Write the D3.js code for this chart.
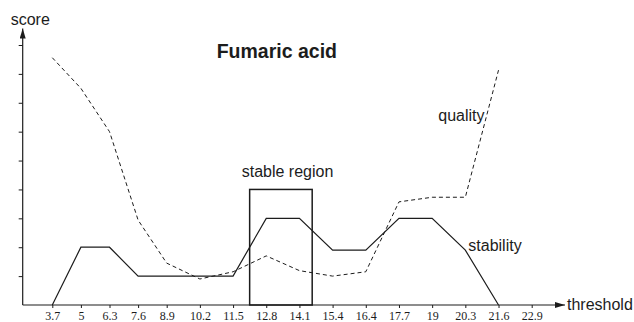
<!DOCTYPE html>
<html>
<head>
<meta charset="utf-8">
<script src="https://cdn.jsdelivr.net/npm/d3@7"></script>
<style>
  body { margin: 0; background: #fff; }
  svg { display: block; }
</style>
</head>
<body>
<script>
// Fumaric acid - stability / quality score vs threshold

const thresholds = ['3.7', '5', '6.3', '7.6', '8.9', '10.2', '11.5', '12.8', '14.1', '15.4', '16.4', '17.7', '19', '20.3', '21.6', '22.9']
// scores at thresholds[0..14]
const stability = [0, 2, 2, 1, 1, 1, 1, 3, 3, 1.9, 1.9, 3, 3, 1.9, 0]
const quality = [8.56, 7.5, 6.0, 2.94, 1.45, 0.9, 1.15, 1.7, 1.19, 1.0, 1.15, 3.57, 3.73, 3.73, 8.13]
const yTicks = [1, 2, 3, 4, 5, 6, 7, 8, 9]
const stableRegion = [12.15, 14.6]
const stableTop = 4

const width = 634
const height = 322
const ink = '#1c1c1c'
const sans = '"Liberation Sans", Arial, Helvetica, sans-serif'
const serif = '"Liberation Serif", "Times New Roman", serif'

const svg = d3.select('body').append('svg')
  .attr('width', width)
  .attr('height', height)

// tick spacing in the original is a bit tighter for the first four steps
const xScale = d3.scaleLinear()
  .domain([0, 4, thresholds.length - 1])
  .range([52.3, 166.7, 531.7])

const yScale = d3.scaleLinear()
  .domain([0, 9])
  .range([305, 45])

// threshold value -> fractional index -> pixel
const tvals = thresholds.map(Number)
function xPos(v) {
  const i = Math.max(1, Math.min(tvals.length - 1, d3.bisectRight(tvals, v)))
  const f = (v - tvals[i - 1]) / (tvals[i] - tvals[i - 1])
  return xScale(i - 1 + f)
}

const x0 = 22.7
const y0 = yScale(0)

// arrow heads
const defs = svg.append('defs')
defs.append('marker')
  .attr('id', 'arrow')
  .attr('viewBox', '0 0 10 6')
  .attr('refX', 10)
  .attr('refY', 3)
  .attr('markerWidth', 10)
  .attr('markerHeight', 6)
  .attr('markerUnits', 'userSpaceOnUse')
  .attr('orient', 'auto')
  .append('path')
  .attr('d', 'M0,0 L10,3 L0,6 Z')
  .attr('fill', ink)

// axes lines
svg.append('line')
  .attr('x1', x0).attr('y1', y0)
  .attr('x2', x0).attr('y2', 28.5)
  .attr('stroke', ink)
  .attr('stroke-width', 1.2)
  .attr('marker-end', 'url(#arrow)')

svg.append('line')
  .attr('x1', x0).attr('y1', y0)
  .attr('x2', 565).attr('y2', y0)
  .attr('stroke', ink)
  .attr('stroke-width', 1.2)
  .attr('marker-end', 'url(#arrow)')

// y ticks (no labels)
const yAxis = svg.append('g')
  .attr('transform', `translate(${x0},0)`)
  .call(d3.axisLeft(yScale).tickValues(yTicks).tickSize(4).tickSizeOuter(0).tickFormat(''))
yAxis.select('.domain').remove()
yAxis.selectAll('line').attr('stroke', ink)

// x ticks
const xAxis = svg.append('g')
  .attr('transform', `translate(0,${y0})`)
  .call(d3.axisBottom(xScale)
    .tickValues(d3.range(thresholds.length))
    .tickSize(3)
    .tickSizeOuter(0)
    .tickFormat(i => thresholds[i]))
xAxis.select('.domain').remove()
xAxis.selectAll('line').attr('stroke', ink)
xAxis.selectAll('text')
  .attr('y', 15)
  .attr('dy', 0)
  .style('font-family', serif)
  .style('font-size', '12px')
  .attr('fill', ink)

// stable region box
svg.append('rect')
  .attr('x', xPos(stableRegion[0]))
  .attr('y', yScale(stableTop))
  .attr('width', xPos(stableRegion[1]) - xPos(stableRegion[0]))
  .attr('height', y0 - yScale(stableTop))
  .attr('fill', 'none')
  .attr('stroke', ink)
  .attr('stroke-width', 1.5)

const line = d3.line()
  .x((d, i) => xScale(i))
  .y(d => yScale(d))

svg.append('path')
  .datum(stability)
  .attr('d', line)
  .attr('fill', 'none')
  .attr('stroke', ink)
  .attr('stroke-width', 1.2)

svg.append('path')
  .datum(quality)
  .attr('d', line)
  .attr('fill', 'none')
  .attr('stroke', ink)
  .attr('stroke-width', 1)
  .attr('stroke-dasharray', '4,3')

// texts
const label = (x, y, txt, size, weight) => svg.append('text')
  .attr('x', x)
  .attr('y', y)
  .style('font-family', sans)
  .style('font-size', size + 'px')
  .style('font-weight', weight || 'normal')
  .attr('fill', ink)
  .text(txt)

label(10.7, 25, 'score', 16)
label(567, 309.5, 'threshold', 16)
label(216.7, 58.3, 'Fumaric acid', 19.5, 'bold')
label(241.7, 176.7, 'stable region', 16)
label(438.3, 120.5, 'quality', 16)
label(468.3, 250.7, 'stability', 16)
</script>
</body>
</html>
